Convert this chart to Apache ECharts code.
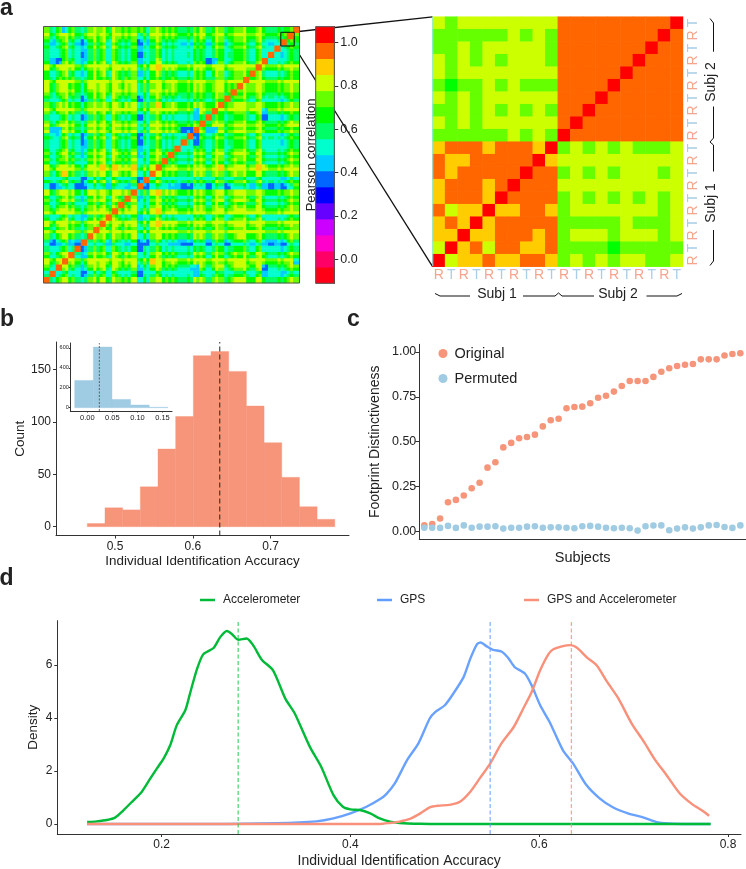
<!DOCTYPE html>
<html><head><meta charset="utf-8">
<style>html,body{margin:0;padding:0;background:#fff;font-family:'Liberation Sans'}#c{width:746px;height:869px}</style>
<script src="https://cdn.jsdelivr.net/npm/echarts@6/dist/echarts.min.js"></script>
</head><body><div id="c"></div>
<script>
// ---------- panel a ----------
const levelColors = ['#FF0016','#FF0066','#FF00CC','#CC00FF','#6600FF','#0000FF','#0066FF','#00CCFF','#00FFCC','#00FF66','#00FF00','#66FF00','#CCFF00','#FFCC00','#FF6600','#FF0000'];
// subject by subject colour level (hex index into levelColors), bottom row first; read by eye
const mainRows = [
"b9acb98bbcabbac89bcbaa99cb9cb9ccbaca9a9cb",
"988a9869aa8a98a689a98888798aa8aaa8a7887a9",
"a89ba87abb9ba9b78aba99877a8bb8bbb9b6898ba",
"cabcca9cccbcbbc9adcbbbaacbacbaccbbcbabac7",
"b9acb97bcbacbbc89bcbaa99cb9cb9cbcacb9a9cb",
"988a9869aa8a98a689a98888a98aa8aaa8a8887a9",
"867986689979879668987766986996999797676a8",
"b9acb98bcbabbac89bcbaa99cb9cb9bcbaba9a9cb",
"cabcca9cccbcbbc9acccbbaacbaccacccbcbabacc",
"cabcca9cccbcbbc9acdcbbaacbacbaccbbcbabacb",
"a89ba87abb9ba9b78aba9988ba8bb8bbb9b9898ba",
"cabcca9cccbbbbc9acdbbbaacbaccacccbcbabacb",
"b9acb98bbcabbac89bcbaa99cb9cb9cbbaca9a9cb",
"a89ba87abb9ba9b78aba9988ba8bb8bbb9b9898ba",
"cabcca9cccbcbbc9acdcbbaacbaccacccbcbabacb",
"8679865899798795689877669869969997976769b",
"988a9869aa8a98a689a98888a98aa8aaa8a8887a9",
"b9acb98bcbabbac89bcbaa99cb9cb9cbbaca9a9cb",
"cabdca9ccdccbcc9accbbbaacbacdaccbbdcabacb",
"b9acb98bcbabbac89bcbaa99cb9cb9cbbaca9a9cb",
"a89ba87abb9ba9b78aba9988ba8bb8bbb9b9898ba",
"a89ba87abb9ba9b78aba9988ba8bb8bbb9b9898ba",
"988a9869aa8a98a689a98888698aa8aaa8a8887a9",
"988a9869aa8a98a689a98888698aa8aaa8a8887a9",
"cabcca9cccbcbbc9acccbbaacb77cacccbcbabacb",
"b9acb98bbbabbac89bcbaa99cb9cb9bbbaba9a9cb",
"988a9869aa8a98a689a98888a98aa8aaa8a6887a9",
"cabcca9cccbccbc9acdcbbaacbacbaccbbc7abacb",
"cabcca9cccbcbbc9adcbbbaacbacbacccbcbabacb",
"988a9869aa8a98a689a98888a98aa8aaa8a8887a9",
"cabcca9cccbcbbc9acccbbaacbacbacbcbcbabacb",
"cabcca9cccbcbbc9acccbbaacbacbacccbcbabacb",
"cabcca9cccbccbc9accbbbaacbaccacccbcbabacb",
"a89ba87abb9ba9b78aba9988ba8bb8bbb9b9898ba",
"cabcca9cccbcbbc9acccbbaacbacbacccbcbabacb",
"a89da87abb9ba9b78ada9988ba8bb8bbb9b9898ba",
"988a9869aa8a98a689d98888a98aa8aaa8a8887a9",
"a89ba87abb9ba9b78aba9988ba8bb8bbb9b9898ba",
"988a9869aa8a98a689a98888a98aa8aaa8a8887a9",
"cabcca9cccbcbbc9acccbbaacbacbacccbcbabacb",
"b9acb98bcbabbac89bcbaa99cb9cb9cbbaca9a9cb"
];
// half-subject stripes, left to right, read by eye from the fine bands
const scanShift = [0,0,0,-1,0,1,0,1,-1,0,0,0,-1,1,0,0,1,-1,0,1,0,-1,1,0,0,-1,1,0,0,0,-1,0,1,-1,0,0,1,0,-1,0,0,1,0,-1,0,0,1,0,0,-1,1,0,0,0,-1,1,0,0,0,1,-1,0,0,0,1,-1,0,0,0,1,0,-1,0,0,-1,0,0,1,-1,0,0,0];
const selfLevel = 14;
const barTicks = [0, 0.2, 0.4, 0.6, 0.8, 1.0];
// zoomed matrix, top row first
const detailRows = [
"cbcccccccceeeeeeeeef",
"bbbbbbcbcbeeeeeeeefe",
"bbcbcccccbeeeeeeefee",
"cbcbcbcccbeeeeeefeee",
"cbcccccccceeeeefeeee",
"babbcbcbbbeeeefeeeee",
"cbcbcccccceeefeeeeee",
"bbcbcbcbcbeefeeeeeee",
"cbcbccccccefeeeeeeee",
"bbbbbbcbcbfeeeeeeeee",
"deeedeeedfbcbcbcbbbc",
"eddeeeeefdcccccccccc",
"edeeeeefeebcbcbcccbc",
"deeedefeeecccccccccc",
"deeedfeeeebcbcbcbcbc",
"ecddfddeedbcccccccbc",
"dedfdeeeeebbbbbcbbbc",
"ddfddeeedebcccbcccbc",
"cfdeceeddebbbbabbbbb",
"fcddeddeedbcbcbccbbc"
];
const scanLabels = ['R','T','R','T','R','T','R','T','R','T','R','T','R','T','R','T','R','T','R','T'];
// ---------- panel b ----------
const histEdgeStart = 0.4644, histBinWidth = 0.02271;
const histCounts = [3,18,16,38,74,105,163,167,148,115,80,47,19,7];
const histMean = 0.6346;
const insetEdgeStart = -0.0252, insetBinWidth = 0.0372;
const insetCounts = [273,607,83,27,5];
const insetMean = 0.024;
// ---------- panel c ----------
const originalValues = [.033,.041,.071,.162,.175,.2,.24,.271,.355,.385,.468,.493,.519,.526,.539,.585,.619,.628,.686,.693,.695,.714,.745,.756,.779,.81,.838,.838,.838,.861,.89,.909,.922,.929,.933,.959,.959,.959,.98,.989,.993];
const permutedValues = [.020,.020,.019,.030,.019,.033,.020,.026,.026,.028,.015,.020,.020,.026,.028,.020,.022,.022,.020,.017,.028,.030,.026,.020,.017,.020,.017,.004,.028,.032,.033,.006,.015,.022,.015,.022,.033,.035,.024,.019,.033];
// ---------- panel d ----------
const accelCurve = [[.121,.075],[.131,.10],[.142,.15],[.151,.25],[.159,.50],[.168,.82],[.179,1.22],[.188,1.72],[.195,2.10],[.202,2.47],[.209,2.97],[.216,3.73],[.225,4.29],[.230,4.92],[.237,5.80],[.244,6.40],[.255,6.64],[.262,7.05],[.269,7.28],[.274,7.18],[.281,6.95],[.290,7.00],[.297,6.74],[.306,6.20],[.318,5.80],[.331,4.73],[.341,4.17],[.357,2.91],[.369,2.16],[.382,1.09],[.392,.65],[.400,.55],[.410,.53],[.421,.40],[.431,.21],[.442,.09],[.452,.04],[.474,.01],[.50,.002],[.60,0],[.70,0],[.7816,0]];
const gpsCurve = [[.121,0],[.25,0],[.322,.03],[.364,.10],[.382,.21],[.400,.40],[.417,.65],[.431,.93],[.438,1.13],[.447,1.53],[.460,2.41],[.472,3.04],[.484,3.98],[.490,4.23],[.500,4.48],[.509,4.92],[.520,5.55],[.527,6.24],[.534,6.78],[.538,6.85],[.544,6.71],[.551,6.57],[.560,6.51],[.567,6.27],[.574,5.92],[.585,5.67],[.592,5.23],[.601,4.48],[.611,3.85],[.625,2.79],[.636,2.28],[.650,1.47],[.664,.97],[.678,.63],[.694,.40],[.710,.25],[.726,.06],[.742,.01],[.7816,0]];
const bothCurve = [[.121,0],[.30,0],[.431,0],[.442,.04],[.452,.09],[.463,.19],[.474,.40],[.484,.63],[.493,.69],[.505,.72],[.516,.84],[.527,1.22],[.537,1.72],[.548,2.28],[.560,3.04],[.573,3.66],[.583,4.35],[.592,4.98],[.601,5.80],[.610,6.42],[.615,6.59],[.624,6.70],[.633,6.75],[.640,6.65],[.651,6.27],[.661,5.98],[.672,5.36],[.684,4.73],[.698,3.79],[.711,3.10],[.723,2.41],[.735,1.84],[.749,1.15],[.762,.75],[.773,.50],[.780,.31]];
const accelMean = .281, gpsMean = .548, bothMean = .634;

const SALMON='#F6957A', BLUE='#9FCBE3', GREEN='#00BA38', GPSBLUE='#619CFF', DARK='#222', AXIS='#333';
const FONT='Liberation Sans';

function lvl(ch){return parseInt(ch,16);}
const mainData=[];
for(let p=0;p<82;p++)for(let q=0;q<82;q++){
  const i=p>>1,j=q>>1,a=Math.min(i,j),b=Math.max(i,j);
  let v=selfLevel;
  if(i!==j){
    const base=lvl(mainRows[a][b]), raw=base+scanShift[p]+scanShift[q];
    v=Math.min(Math.max(base,12),Math.max(Math.min(base,8),raw));
  }
  mainData.push([q,p,v]);
}
const detailData=[];
detailRows.forEach((row,r)=>{for(let c=0;c<20;c++)detailData.push([c,19-r,lvl(row[c])]);});
const barData=levelColors.map((_,k)=>[0,k,k]);
const histData=histCounts.map((v,k)=>[histEdgeStart+k*histBinWidth,histEdgeStart+(k+1)*histBinWidth,v]);
const insetData=insetCounts.map((v,k)=>[insetEdgeStart+k*insetBinWidth,insetEdgeStart+(k+1)*insetBinWidth,v]);
const seq=n=>Array.from({length:n},(_,k)=>k);

function renderBin(params,api){
  const p0=api.coord([api.value(0),api.value(2)]),p1=api.coord([api.value(1),0]);
  const c=api.visual('color');
  return {type:'rect',shape:{x:p0[0],y:p0[1],width:p1[0]-p0[0],height:p1[1]-p0[1]},style:{fill:c,stroke:c,lineWidth:0.4}};
}
function hiddenCat(gridIndex,n){return {type:'category',gridIndex,data:seq(n),axisLine:{show:false},axisTick:{show:false},axisLabel:{show:false},splitLine:{show:false}};}
function valAxis(o){
  const a={type:'value',gridIndex:o.grid,min:o.min,max:o.max,position:o.pos,scale:true,
    axisLine:{show:true,onZero:false,lineStyle:{color:AXIS,width:1}},
    axisTick:{show:!!o.ticks,length:o.tickLen||3,lineStyle:{color:AXIS,width:1},customValues:o.ticks},
    axisLabel:{show:!!o.ticks,customValues:o.ticks,fontFamily:FONT,fontSize:o.fs||12,color:DARK,margin:o.margin||5,formatter:o.fmt||(v=>String(v))},
    splitLine:{show:false}};
  if(o.name){a.name=o.name;a.nameLocation='middle';a.nameGap=o.gap;a.nameMoveOverlap=false;a.nameTextStyle={fontFamily:FONT,fontSize:o.nfs||13.5,color:DARK};}
  return a;
}
const f1=v=>v.toFixed(1),f2=v=>v.toFixed(2);

function txt(t,x,y,fs,o){o=o||{};return {type:'text',x,y,rotation:o.rot||0,z:20,silent:true,style:{text:t,fontSize:fs,fontWeight:o.bold?'bold':'normal',fontFamily:FONT,fill:o.fill||DARK,align:o.align||'center',verticalAlign:'middle'}};}
function pl(points,o){o=o||{};return {type:'polyline',z:o.z===undefined?1:o.z,silent:true,shape:{points},style:{stroke:o.c||'#111',lineWidth:o.w||1,fill:null}};}
function meanLine(name,xAxisIndex,x,yLo,yHi,color,dash,width){
  return {type:'line',name,xAxisIndex,yAxisIndex:xAxisIndex,data:[[x,yLo],[x,yHi]],showSymbol:false,silent:true,z:4,lineStyle:{color,type:dash,width},itemStyle:{color}};
}

const option={
  animation:false,
  backgroundColor:'#fff',
  textStyle:{fontFamily:FONT},
  visualMap:{type:'piecewise',show:false,seriesIndex:[0,1,2],dimension:2,pieces:levelColors.map((color,k)=>({min:k-0.5,max:k+0.5,color}))},
  legend:[
    {data:['Original','Permuted'],orient:'vertical',left:433.5,top:341,itemWidth:9,itemHeight:9,itemGap:10,icon:'circle',selectedMode:false,textStyle:{fontFamily:FONT,fontSize:14.5,color:DARK,padding:[0,0,0,2]}},
    {data:['Accelerometer'],left:195,top:589,itemWidth:15,itemHeight:2.5,icon:'rect',selectedMode:false,textStyle:{fontFamily:FONT,fontSize:12,color:DARK,padding:[0,0,0,3]}},
    {data:['GPS'],left:372,top:589,itemWidth:15,itemHeight:2.5,icon:'rect',selectedMode:false,textStyle:{fontFamily:FONT,fontSize:12,color:DARK,padding:[0,0,0,3]}},
    {data:['GPS and Accelerometer'],left:519,top:589,itemWidth:15,itemHeight:2.5,icon:'rect',selectedMode:false,textStyle:{fontFamily:FONT,fontSize:12,color:DARK,padding:[0,0,0,3]}}
  ],
  grid:[
    {left:43.5,top:26.5,width:256,height:256.5},
    {left:315.7,top:26.7,width:18.6,height:256.6},
    {left:432.6,top:16.7,width:250.4,height:250},
    {left:56,top:342,width:293,height:193.5},
    {left:70.3,top:343,width:101.7,height:68},
    {left:419.3,top:344.3,width:326.7,height:195},
    {left:57.3,top:620.7,width:683.7,height:213.3}
  ],
  xAxis:[
    hiddenCat(0,82),
    hiddenCat(1,1),
    {type:'category',gridIndex:2,data:scanLabels.map((s,k)=>({value:s+k,textStyle:{color:s==='R'?'#F5A48D':'#A9CFE6'}})),axisLine:{show:false},axisTick:{show:false},
      axisLabel:{fontFamily:FONT,fontSize:14,margin:1,interval:0,formatter:v=>v[0]}},
    valAxis({grid:3,min:0.4242,max:0.8006,pos:'bottom',ticks:[.5,.6,.7],fmt:f1,name:'Individual Identification Accuracy',gap:19,nfs:13.4}),
    valAxis({grid:4,min:-0.034,max:0.169,pos:'bottom',ticks:[0,.05,.1,.15],fmt:f2,fs:7.5,tickLen:1.5,margin:2.5}),
    valAxis({grid:5,min:0.367,max:41.72,pos:'bottom',name:'Subjects',gap:11,nfs:14.5}),
    valAxis({grid:6,min:0.0894,max:0.8138,pos:'bottom',ticks:[.2,.4,.6,.8],fmt:f1,name:'Individual Identification Accuracy',gap:20,nfs:14})
  ],
  yAxis:[
    hiddenCat(0,82),
    hiddenCat(1,16),
    {type:'category',gridIndex:2,position:'right',data:scanLabels.map((s,k)=>({value:s+k,textStyle:{color:s==='R'?'#F5A48D':'#A9CFE6'}})),axisLine:{show:false},axisTick:{show:false},
      axisLabel:{fontFamily:FONT,fontSize:14,margin:3,interval:0,rotate:90,formatter:v=>v[0]}},
    valAxis({grid:3,min:-8.4,max:176,pos:'left',ticks:[0,50,100,150],name:'Count',gap:29}),
    valAxis({grid:4,min:-33,max:648,pos:'left',ticks:[0,200,400,600],fs:5.5,tickLen:1.5,margin:1.5}),
    valAxis({grid:5,min:-0.0446,max:1.0428,pos:'left',ticks:[0,.25,.5,.75,1],fmt:f2,fs:12.5,tickLen:4,margin:3,name:'Footprint Distinctiveness',gap:37,nfs:14}),
    valAxis({grid:6,min:-0.377,max:7.67,pos:'left',ticks:[0,2,4,6],name:'Density',gap:17.5}),
    valAxis({grid:1,min:-0.112,max:1.074,pos:'right',ticks:barTicks,fmt:f1,fs:12.5,tickLen:4,margin:6})
  ],
  series:[
    {type:'heatmap',xAxisIndex:0,yAxisIndex:0,data:mainData,silent:true,progressive:0},
    {type:'heatmap',xAxisIndex:1,yAxisIndex:1,data:barData,silent:true},
    {type:'heatmap',xAxisIndex:2,yAxisIndex:2,data:detailData,silent:true},
    {type:'custom',name:'hist',xAxisIndex:3,yAxisIndex:3,data:histData,renderItem:renderBin,itemStyle:{color:SALMON},encode:{x:[0,1],y:2},silent:true},
    meanLine('histMean',3,histMean,-8.4,176,'#222',[5,3],1),
    {type:'custom',name:'inset',xAxisIndex:4,yAxisIndex:4,data:insetData,renderItem:renderBin,itemStyle:{color:BLUE},encode:{x:[0,1],y:2},silent:true},
    meanLine('insetMean',4,insetMean,-33,648,'#333',[2,1.5],0.7),
    {type:'scatter',name:'Original',xAxisIndex:5,yAxisIndex:5,data:originalValues.map((v,k)=>[k+1,v]),symbolSize:6.6,itemStyle:{color:SALMON,opacity:1},silent:true},
    {type:'scatter',name:'Permuted',xAxisIndex:5,yAxisIndex:5,data:permutedValues.map((v,k)=>[k+1,v]),symbolSize:6.6,itemStyle:{color:BLUE,opacity:1},silent:true},
    {type:'line',name:'GPS',xAxisIndex:6,yAxisIndex:6,data:gpsCurve,showSymbol:false,smooth:0.25,lineStyle:{color:GPSBLUE,width:2.4,opacity:.95},itemStyle:{color:GPSBLUE},silent:true},
    {type:'line',name:'Accelerometer',xAxisIndex:6,yAxisIndex:6,data:accelCurve,showSymbol:false,smooth:0.25,lineStyle:{color:GREEN,width:2.4},itemStyle:{color:GREEN},silent:true},
    {type:'line',name:'GPS and Accelerometer',xAxisIndex:6,yAxisIndex:6,data:bothCurve,showSymbol:false,smooth:0.25,lineStyle:{color:'#F8907A',width:2.4},itemStyle:{color:'#F8907A'},silent:true},
    meanLine('gpsMean',6,gpsMean,-0.377,7.67,GPSBLUE,[4,2.5],1),
    meanLine('accelMean',6,accelMean,-0.377,7.67,'#1FCB46',[4,2.5],1),
    meanLine('bothMean',6,bothMean,-0.377,7.67,'#F8907A',[4,2.5],1)
  ],
  graphic:[
    pl([[294,32],[432.6,16.9]],{w:1.3}),
    pl([[294,46],[432.6,266.7]],{w:1.3}),
    {type:'rect',z:10,silent:true,shape:{x:43.5,y:26.5,width:256,height:256.5},style:{fill:null,stroke:'#555',lineWidth:1}},
    {type:'rect',z:10,silent:true,shape:{x:315.7,y:26.7,width:18.6,height:256.6},style:{fill:null,stroke:'#555',lineWidth:1}},
    {type:'rect',z:11,silent:true,shape:{x:280.8,y:32.3,width:13.4,height:13.7},style:{fill:null,stroke:'#111',lineWidth:1}},
    pl([[432.8,17],[432.8,266]],{c:'#7FE8E8',w:1,z:5}),
    pl([[435,293.5],[440,296],[470,296]]),pl([[523,296],[555,296],[558.5,293],[562,296],[594,296]]),pl([[646.5,296],[677,296],[682,293.5]]),
    pl([[710,18.5],[713.5,23],[713.5,51.7]]),pl([[713.5,106.5],[713.5,138],[710,142],[713.5,145],[713.5,171.5]]),pl([[713.5,230],[713.5,261],[710,265.5]]),
    txt('Subj 1',497,294.5,14),txt('Subj 2',618,294.5,14),
    txt('Subj 2',711,82,14,{rot:Math.PI/2}),txt('Subj 1',711,203,14,{rot:Math.PI/2}),
    txt('Pearson correlation',311,155,13,{rot:Math.PI/2}),
    txt('a',6.5,9,23,{bold:true}),txt('b',7,320,23,{bold:true}),txt('c',353.5,320,23,{bold:true}),txt('d',6.5,579,23,{bold:true})
  ]
};
const chart=echarts.init(document.getElementById('c'),null,{renderer:'canvas',width:746,height:869});
chart.setOption(option);
</script></body></html>
